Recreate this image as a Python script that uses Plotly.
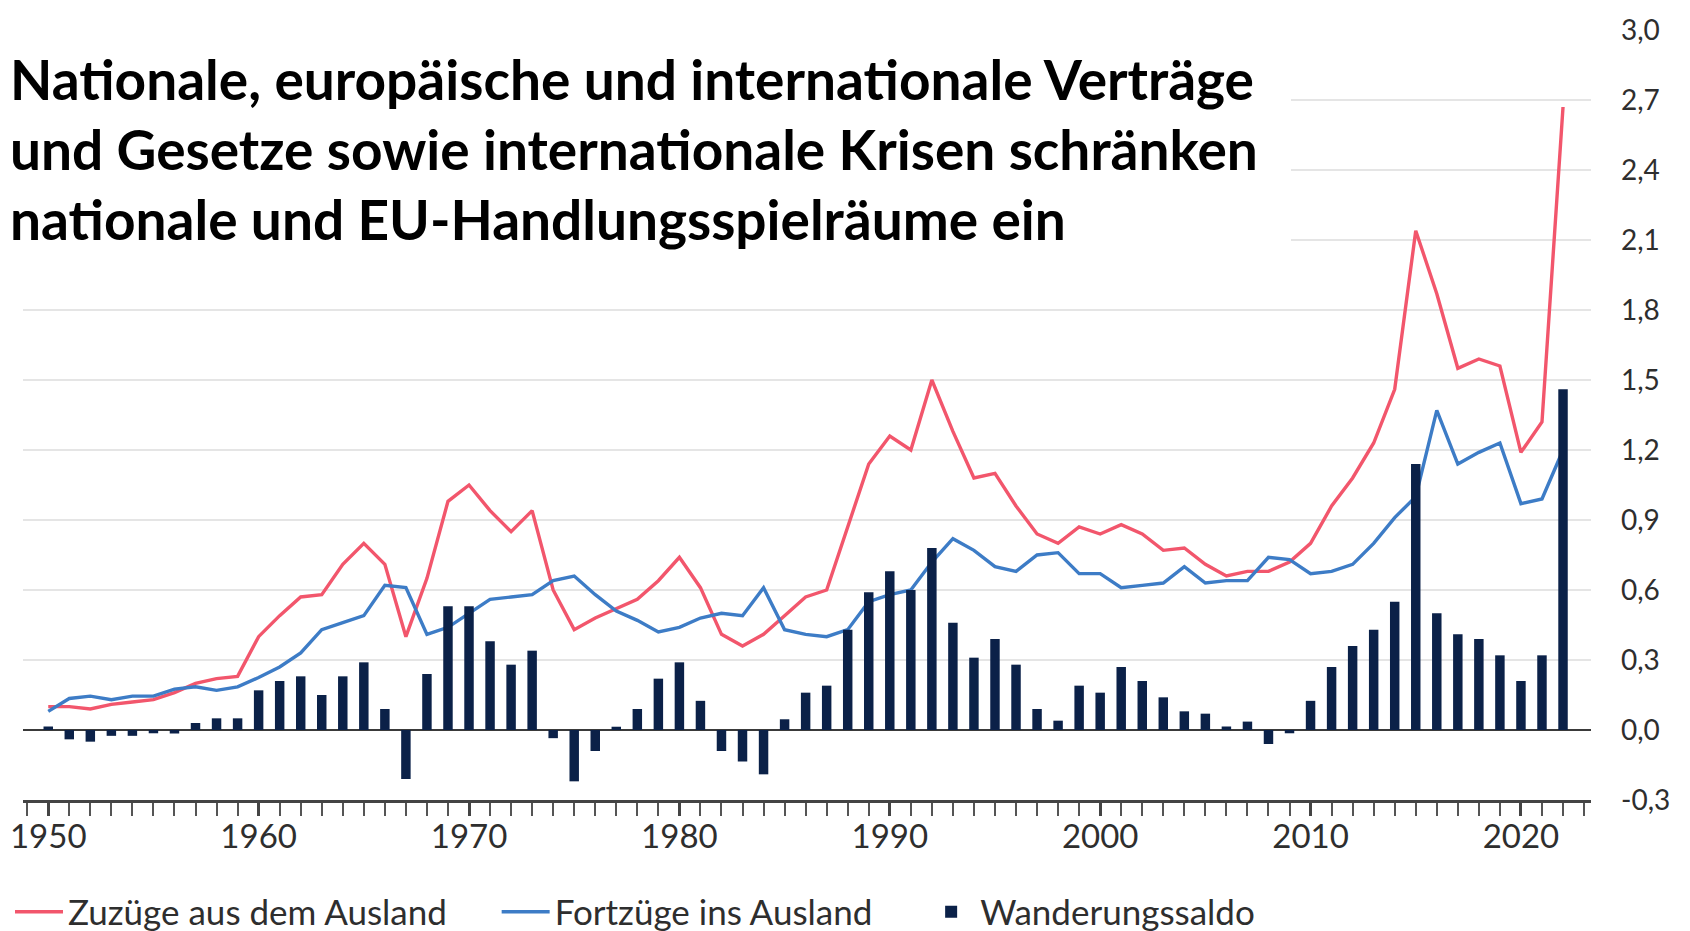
import plotly.graph_objects as go

# ---------------- data (millions of persons) ----------------
years = list(range(1950, 2023))

zuzuege = [
    0.10, 0.10, 0.09, 0.11, 0.12, 0.13, 0.16, 0.20, 0.22, 0.23,   # 1950-1959
    0.40, 0.49, 0.57, 0.58, 0.71, 0.80, 0.71, 0.40, 0.65, 0.98,   # 1960-1969
    1.05, 0.94, 0.85, 0.94, 0.60, 0.43, 0.48, 0.52, 0.56, 0.64,   # 1970-1979
    0.74, 0.61, 0.41, 0.36, 0.41, 0.49, 0.57, 0.60, 0.87, 1.14,   # 1980-1989
    1.26, 1.20, 1.50, 1.28, 1.08, 1.10, 0.96, 0.84, 0.80, 0.87,   # 1990-1999
    0.84, 0.88, 0.84, 0.77, 0.78, 0.71, 0.66, 0.68, 0.68, 0.72,   # 2000-2009
    0.80, 0.96, 1.08, 1.23, 1.46, 2.14, 1.87, 1.55, 1.59, 1.56,   # 2010-2019
    1.19, 1.32, 2.67,                                             # 2020-2022
]

fortzuege = [
    0.08, 0.135, 0.145, 0.13, 0.145, 0.145, 0.175, 0.185, 0.17, 0.185,
    0.225, 0.27, 0.33, 0.43, 0.46, 0.49, 0.62, 0.61, 0.41, 0.44,
    0.50, 0.56, 0.57, 0.58, 0.64, 0.66, 0.58, 0.51, 0.47, 0.42,
    0.44, 0.48, 0.50, 0.49, 0.61, 0.43, 0.41, 0.40, 0.43, 0.55,
    0.58, 0.60, 0.72, 0.82, 0.77, 0.70, 0.68, 0.75, 0.76, 0.67,
    0.67, 0.61, 0.62, 0.63, 0.70, 0.63, 0.64, 0.64, 0.74, 0.73,
    0.67, 0.68, 0.71, 0.80, 0.91, 1.00, 1.37, 1.14, 1.19, 1.23,
    0.97, 0.99, 1.20,
]

saldo = [
    0.015, -0.04, -0.05, -0.025, -0.025, -0.014, -0.015, 0.03, 0.05, 0.05,
    0.17, 0.21, 0.23, 0.15, 0.23, 0.29, 0.09, -0.21, 0.24, 0.53,
    0.53, 0.38, 0.28, 0.34, -0.035, -0.22, -0.09, 0.014, 0.09, 0.22,
    0.29, 0.125, -0.09, -0.135, -0.19, 0.046, 0.16, 0.19, 0.43, 0.59,
    0.68, 0.60, 0.78, 0.46, 0.31, 0.39, 0.28, 0.09, 0.04, 0.19,
    0.16, 0.27, 0.21, 0.14, 0.08, 0.07, 0.015, 0.036, -0.06, -0.014,
    0.125, 0.27, 0.36, 0.43, 0.55, 1.14, 0.50, 0.41, 0.39, 0.32,
    0.21, 0.32, 1.46,
]

series_names = ["Zuzüge aus dem Ausland", "Fortzüge ins Ausland", "Wanderungssaldo"]

y_tickvals = [-0.3, 0.0, 0.3, 0.6, 0.9, 1.2, 1.5, 1.8, 2.1, 2.4, 2.7, 3.0]
y_ticktext = ["-0,3", "0,0", "0,3", "0,6", "0,9", "1,2", "1,5", "1,8", "2,1", "2,4", "2,7", "3,0"]

x_tickvals = [1950, 1960, 1970, 1980, 1990, 2000, 2010, 2020]
x_ticktext = ["1950", "1960", "1970", "1980", "1990", "2000", "2010", "2020"]

title_lines = [
    "Nationale, europäische und internationale Verträge",
    "und Gesetze sowie internationale Krisen schränken",
    "nationale und EU-Handlungsspielräume ein",
]

# ---------------- styling ----------------
RED = "#f2566c"
BLUE = "#3d7cc6"
NAVY = "#0b2148"
TXT = "#2e2e2e"
FONT = "Lato"
NBSP = "\u00a0"

W, H = 1690, 931
ML, MR, MT, MB = 15, 107, 22, 139
PW = W - ML - MR
PH = H - MT - MB


def px_x(px):
    return (px - ML) / PW


def px_y(py):
    return (H - MB - py) / PH


fig = go.Figure()

# legend spacing is produced with trailing non-breaking spaces (invisible)
fig.add_trace(go.Scatter(
    x=years, y=zuzuege, name=series_names[0] + NBSP * 5, mode="lines",
    line=dict(color=RED, width=3.4), xaxis="x", yaxis="y",
))
fig.add_trace(go.Scatter(
    x=years, y=fortzuege, name=series_names[1] + NBSP * 5, mode="lines",
    line=dict(color=BLUE, width=3.4), xaxis="x", yaxis="y",
))
fig.add_trace(go.Bar(
    x=years, y=saldo, name=series_names[2], width=0.45,
    marker=dict(color=NAVY, line=dict(width=0)), xaxis="x", yaxis="y2",
))

y_range = [-0.3, 3.0]
x_range = [1948.8, 2023.33]

fig.update_layout(
    width=W, height=H,
    template="none",
    paper_bgcolor="white", plot_bgcolor="white",
    margin=dict(l=ML, r=MR, t=MT, b=MB, autoexpand=False),
    font=dict(family=FONT, color=TXT),
    showlegend=True,
    xaxis=dict(
        range=x_range, showgrid=False, zeroline=False,
        showline=True, linecolor="#444444", linewidth=2.5,
        tickmode="array", tickvals=x_tickvals, ticktext=x_ticktext,
        ticks="outside", ticklen=13, tickwidth=3, tickcolor="#444444",
        minor=dict(tickmode="linear", tick0=1950, dtick=1, ticks="outside",
                   ticklen=13, tickwidth=2, tickcolor="#555555", showgrid=False),
        tickfont=dict(family=FONT, size=33, color=TXT),
        ticklabelstandoff=-7,
        fixedrange=True,
    ),
    yaxis=dict(
        range=y_range, side="right",
        tickmode="array", tickvals=y_tickvals, ticktext=y_ticktext,
        showgrid=True, gridcolor="#e5e5e5", gridwidth=2,
        zeroline=True, zerolinecolor="#3a3a3a", zerolinewidth=2,
        showline=False, ticks="",
        tickfont=dict(family=FONT, size=28, color=TXT),
        ticklabelstandoff=29,
        fixedrange=True,
    ),
    yaxis2=dict(
        range=y_range, overlaying="y", side="right", visible=False,
        showgrid=False, zeroline=False, fixedrange=True,
    ),
    legend=dict(
        orientation="h", xref="paper", yref="paper",
        x=px_x(2), xanchor="left", y=px_y(904), yanchor="middle",
        font=dict(family=FONT, size=35, color=TXT),
        bgcolor="rgba(0,0,0,0)", traceorder="normal",
        itemwidth=48, itemclick=False,
    ),
)

# white box behind the headline (hides gridlines as in the original)
fig.add_shape(
    type="rect", xref="paper", yref="paper", layer="above",
    x0=px_x(0), x1=px_x(1283), y0=px_y(262), y1=px_y(36),
    fillcolor="white", line=dict(width=0),
)

for i, line in enumerate(title_lines):
    fig.add_annotation(
        text=line, xref="paper", yref="paper",
        x=px_x(0), y=px_y(71 + 70 * i), xanchor="left", yanchor="middle",
        showarrow=False,
        font=dict(family=FONT, size=55, color="black", weight="bold"),
    )

fig.write_html("out.html")
